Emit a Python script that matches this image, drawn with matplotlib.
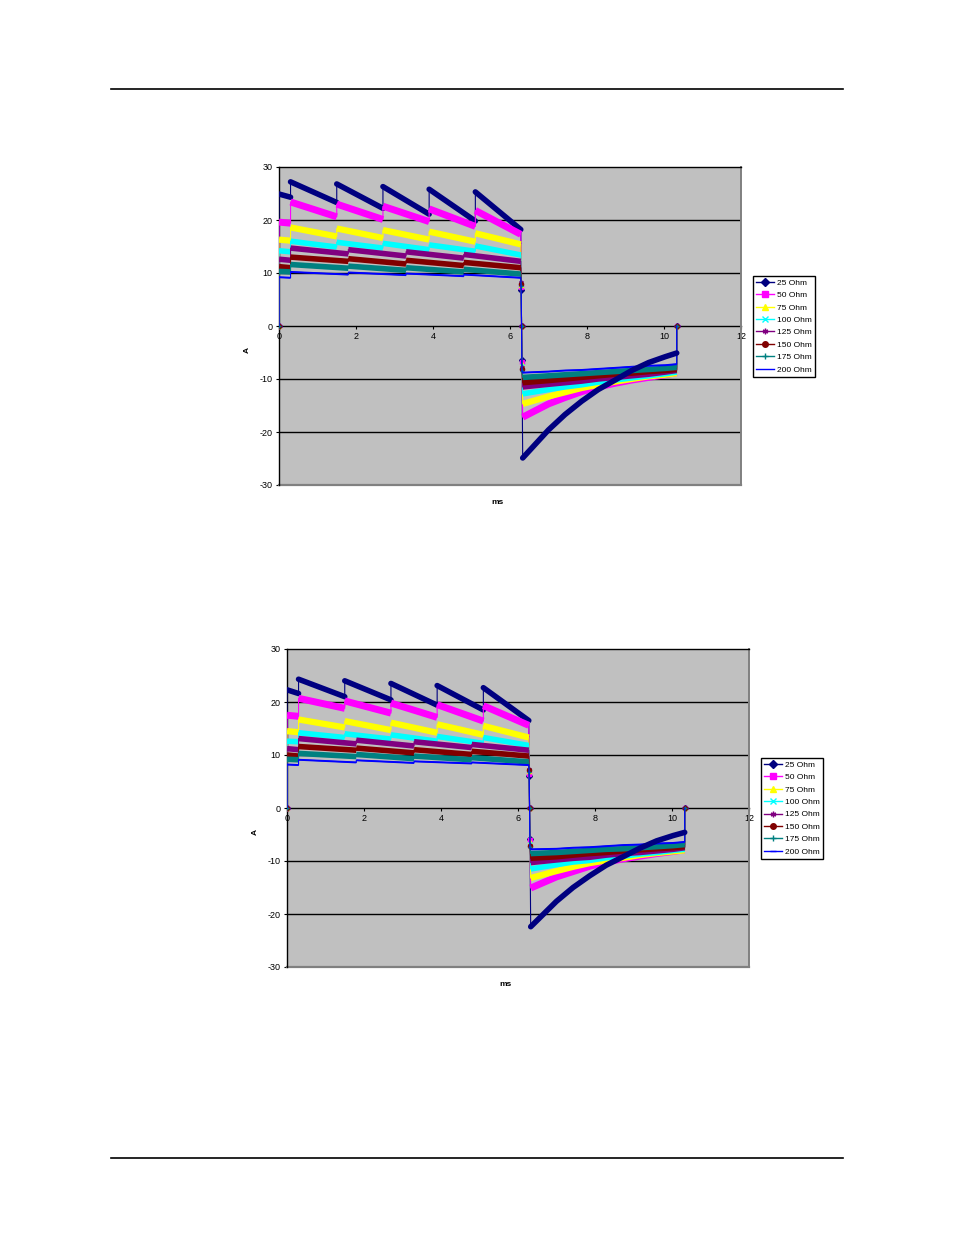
import matplotlib
matplotlib.use('Agg')
import matplotlib.pyplot as plt
from matplotlib.lines import Line2D

plt.rcParams['font.family'] = ['Liberation Sans', 'DejaVu Sans']
plt.rcParams['axes.unicode_minus'] = False

labels = ['25 Ohm', '50 Ohm', '75 Ohm', '100 Ohm', '125 Ohm', '150 Ohm', '175 Ohm', '200 Ohm']
colors = ['#000080', '#FF00FF', '#FFFF00', '#00FFFF', '#800080', '#800000', '#008080', '#0000FF']
markers = ['D', 's', '^', 'x', (6, 2, 0), 'o', '+', None]
band = [4.0, 5.0, 4.5, 4.0, 4.0, 4.0, 4.0, 1.4]

# segment boundaries (ms): 25-100 Ohm switch every 1.2 ms, 125-200 Ohm every 1.5 ms
t_fast = [0.0, 0.3, 1.5, 2.7, 3.9, 5.1, 6.28]
t_slow = [0.0, 0.3, 1.8, 3.3, 4.8, 6.28]
neg_t = [6.33, 7.0, 7.43, 7.86, 8.29, 8.73, 9.16, 9.6, 10.03, 10.33]

# ---- chart 1 ----
c1_top = [[24.9, 27.2, 26.8, 26.3, 25.8, 25.3],
          [19.6, 23.4, 23.0, 22.6, 22.1, 21.8],
          [16.3, 18.6, 18.4, 18.1, 17.8, 17.5],
          [14.2, 16.0, 15.8, 15.6, 15.3, 15.1],
          [12.6, 14.7, 14.4, 14.0, 13.5],
          [11.2, 13.0, 12.7, 12.4, 12.0],
          [10.3, 11.6, 11.3, 11.0, 10.7],
          [9.2, 10.2, 10.1, 9.9, 9.7]]
c1_low = [[24.3, 23.3, 22.2, 21.1, 19.8, 18.2],
          [19.4, 20.6, 20.1, 19.7, 18.8, 17.3],
          [16.1, 16.9, 16.6, 16.3, 15.9, 15.4],
          [14.0, 14.9, 14.7, 14.4, 14.1, 13.4],
          [12.4, 13.6, 13.2, 12.8, 12.2],
          [11.0, 12.2, 11.7, 11.4, 11.0],
          [10.2, 10.9, 10.5, 10.2, 9.8],
          [9.1, 9.7, 9.6, 9.4, 9.1]]
c1_drop = [6.8, 7.3, 7.7, 8.0, 8.3, 8.0, 7.6, 6.6]
c1_neg0 = [-6.4, -6.8, -7.2, -7.5, -7.8, -8.1, -8.4, -8.6]
c1_neg = [[-24.9, -19.6, -16.7, -14.2, -12.0, -10.2, -8.4, -6.9, -5.8, -5.1],
          [-17.2, -14.7, -13.5, -12.4, -11.5, -10.8, -10.2, -9.7, -9.2, -8.8],
          [-14.7, -13.3, -12.5, -11.7, -11.1, -10.5, -10.0, -9.5, -9.2, -8.9],
          [-12.8, -12.0, -11.5, -11.1, -10.6, -10.2, -9.8, -9.4, -9.0, -8.7],
          [-11.5, -11.0, -10.7, -10.4, -10.0, -9.7, -9.4, -9.1, -8.7, -8.4],
          [-10.7, -10.3, -10.0, -9.7, -9.4, -9.1, -8.9, -8.6, -8.4, -8.2],
          [-9.7, -9.4, -9.2, -9.0, -8.8, -8.6, -8.4, -8.2, -8.0, -7.8],
          [-8.8, -8.6, -8.4, -8.3, -8.1, -7.9, -7.7, -7.5, -7.4, -7.2]]

# ---- chart 2 ----
c2_top = [[22.3, 24.3, 24.0, 23.5, 23.1, 22.7],
          [17.5, 20.7, 20.2, 19.8, 19.5, 19.3],
          [14.5, 16.7, 16.4, 16.1, 15.8, 15.5],
          [12.6, 14.2, 14.0, 13.8, 13.5, 13.3],
          [11.2, 13.1, 12.8, 12.5, 12.0],
          [10.0, 11.6, 11.3, 11.0, 10.7],
          [9.2, 10.3, 10.1, 9.8, 9.5],
          [8.2, 9.1, 9.0, 8.8, 8.6]]
c2_low = [[21.6, 21.0, 20.4, 19.4, 18.5, 16.5],
          [17.3, 18.8, 17.9, 17.1, 16.4, 15.6],
          [14.3, 15.2, 14.7, 14.2, 13.8, 13.3],
          [12.5, 13.3, 13.0, 12.6, 12.2, 11.8],
          [11.0, 12.1, 11.7, 11.4, 10.9],
          [9.8, 10.9, 10.4, 10.1, 9.8],
          [9.1, 9.7, 9.3, 9.1, 8.7],
          [8.1, 8.6, 8.5, 8.4, 8.1]]
c2_drop = [6.0, 6.5, 6.9, 7.2, 7.4, 7.1, 6.8, 5.9]
c2_neg0 = [-5.8, -6.1, -6.4, -6.7, -6.9, -7.1, -7.3, -7.5]
c2_neg = [[-22.4, -17.6, -15.0, -12.8, -10.8, -9.2, -7.6, -6.2, -5.2, -4.6],
          [-15.1, -13.0, -12.0, -11.0, -10.2, -9.6, -9.1, -8.6, -8.2, -7.9],
          [-13.2, -11.9, -11.1, -10.4, -9.9, -9.4, -8.9, -8.5, -8.2, -8.0],
          [-11.5, -10.7, -10.2, -9.9, -9.4, -9.1, -8.7, -8.4, -8.0, -7.8],
          [-10.3, -9.8, -9.5, -9.3, -8.9, -8.6, -8.4, -8.1, -7.8, -7.5],
          [-9.5, -9.2, -8.9, -8.6, -8.4, -8.1, -7.9, -7.7, -7.5, -7.3],
          [-8.6, -8.4, -8.2, -8.0, -7.8, -7.7, -7.5, -7.3, -7.1, -6.9],
          [-7.8, -7.7, -7.5, -7.4, -7.2, -7.0, -6.9, -6.7, -6.6, -6.4]]

W, H = 954, 1235
fig = plt.figure(figsize=(W / 100, H / 100), dpi=100)


def draw_chart(rect, legend_xy, tops, lows, drops, neg0, negs, dash_200):
    ax = fig.add_axes(rect)
    ax.set_facecolor('#C0C0C0')
    for y in [-20, -10, 10, 20]:
        ax.axhline(y, color='black', lw=1.0, zorder=1)

    for i in range(8):
        tb = t_fast if i < 4 else t_slow
        xs, ys = [0.0], [0.0]
        for k in range(len(tops[i])):
            xs += [tb[k], tb[k + 1]]
            ys += [tops[i][k], lows[i][k]]
        xs += [6.29, 6.3, 6.31]
        ys += [drops[i], 0.0, neg0[i]]
        xs += neg_t
        ys += negs[i]
        xs.append(neg_t[-1])
        ys.append(0.0)
        z = 3 + i
        ax.plot(xs, ys, color=colors[i], lw=0.8, zorder=z)
        cap = 'round' if i == 0 else 'butt'
        for k in range(len(tops[i])):
            ax.plot([tb[k], tb[k + 1]], [tops[i][k], lows[i][k]], color=colors[i],
                    lw=band[i], solid_capstyle=cap, zorder=z)
        # the 25 Ohm decay curve stays visible where it crosses the others
        zn = 12 if i == 0 else z
        ax.plot(neg_t, negs[i], color=colors[i], lw=band[i], solid_capstyle=cap, zorder=zn)
        if markers[i] is not None:
            ax.plot([0, 6.29, 6.3, 6.31, neg_t[-1]], [0, drops[i], 0, neg0[i], 0],
                    ls='none', marker=markers[i], ms=3, mew=1, color=colors[i], zorder=z)

    ax.set_xlim(0, 12)
    ax.set_ylim(-30, 30)
    ax.set_xticks(range(0, 13, 2))
    ax.set_yticks(range(-30, 31, 10))
    ax.spines['bottom'].set_position(('data', 0))
    ax.spines['bottom'].set_zorder(2)
    ax.spines['left'].set_color('black')
    ax.spines['top'].set_color('black')
    ax.spines['right'].set_color('#808080')
    for s in ax.spines.values():
        s.set_linewidth(1.0)
    ax.spines['right'].set_linewidth(1.4)
    ax.plot([0, 12], [-30, -30], color='#808080', lw=1.6, clip_on=False, zorder=2)
    ax.tick_params(direction='out', length=2.5, width=0.8, labelsize=6.5, pad=2)

    ax.set_xlabel('ms', fontsize=6, fontweight='bold')
    ax.set_ylabel('A', fontsize=6, fontweight='bold')
    ax.xaxis.set_label_coords(0.472, -0.044)
    ax.yaxis.set_label_coords(-0.0606, 0.4245)

    handles = []
    for i in range(8):
        m = markers[i]
        if m is None and dash_200:
            m = '_'
        handles.append(Line2D([], [], color=colors[i], lw=1, marker=m, ms=4, mew=1))
    leg = ax.legend(handles, labels, loc='upper left', bbox_to_anchor=legend_xy,
                    bbox_transform=fig.transFigure, fontsize=6, frameon=True,
                    fancybox=False, edgecolor='black', framealpha=1, borderaxespad=0,
                    handlelength=2.2, handletextpad=0.3, labelspacing=0.55, borderpad=0.35)
    leg.get_frame().set_linewidth(1.0)
    return ax


draw_chart([279 / W, 1 - 485 / H, 462 / W, 318 / H], (753 / W, 1 - 276 / H),
           c1_top, c1_low, c1_drop, c1_neg0, c1_neg, False)
draw_chart([287 / W, 1 - 967 / H, 462 / W, 318 / H], (761 / W, 1 - 758 / H),
           c2_top, c2_low, c2_drop, c2_neg0, c2_neg, True)

# page rules
fig.add_artist(Line2D([111 / W, 843 / W], [1 - 89 / H] * 2, color='black', lw=1.2))
fig.add_artist(Line2D([111 / W, 843 / W], [1 - 1158 / H] * 2, color='black', lw=1.2))

fig.savefig('out.png', dpi=100)
